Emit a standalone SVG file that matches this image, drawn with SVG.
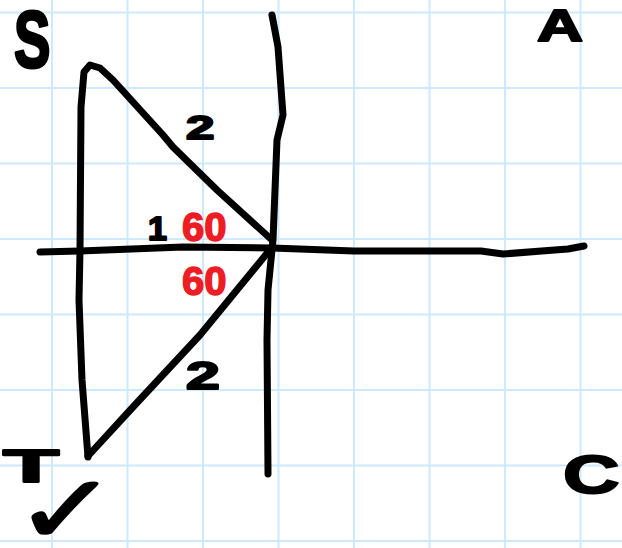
<svg xmlns="http://www.w3.org/2000/svg" width="622" height="548" viewBox="0 0 622 548">
<style>
.grid line{stroke:#cde9fb;stroke-width:2}
.ink{fill:none;stroke:#000;stroke-width:7;stroke-linecap:round;stroke-linejoin:round}
.lbl{font-family:"Liberation Sans",Arial,sans-serif;font-weight:bold;fill:#000;stroke:#000;stroke-width:2;stroke-linejoin:round}
.ang{font-family:"Liberation Sans",Arial,sans-serif;font-weight:bold;fill:#ee1c24;font-size:40px;stroke:#ee1c24;stroke-width:1.5}
</style>
<rect width="622" height="548" fill="#fff"/>
<g class="grid">
<line x1="52" y1="0" x2="52" y2="548"/>
<line x1="127.5" y1="0" x2="127.5" y2="548"/>
<line x1="203" y1="0" x2="203" y2="548"/>
<line x1="278.5" y1="0" x2="278.5" y2="548"/>
<line x1="354" y1="0" x2="354" y2="548"/>
<line x1="429.5" y1="0" x2="429.5" y2="548"/>
<line x1="505" y1="0" x2="505" y2="548"/>
<line x1="580.5" y1="0" x2="580.5" y2="548"/>
<line x1="0" y1="12.5" x2="622" y2="12.5"/>
<line x1="0" y1="88" x2="622" y2="88"/>
<line x1="0" y1="163.5" x2="622" y2="163.5"/>
<line x1="0" y1="239" x2="622" y2="239"/>
<line x1="0" y1="314.5" x2="622" y2="314.5"/>
<line x1="0" y1="390" x2="622" y2="390"/>
<line x1="0" y1="465.5" x2="622" y2="465.5"/>
<line x1="0" y1="541" x2="622" y2="541"/>
</g>
<g id="axes" class="ink">
<path d="M272,15 L278,47 L283,115 L277,140 L273,240 L268,290 L267,340 L268,474"/>
<path d="M40,252 L80,251 L183,247 L272,248 L354,251 L481,251 L503,254 L568,249 L584,246"/>
</g>
<g id="triangles" class="ink">
<path d="M88,457 L82,380 L79,300 L80,250 L81,107 L84,72 L90,65 L100,68 L113,80 L163,135 L173,147 L217,190 L272,240"/>
<path d="M273,246 L223,307 L200,335 L133,407 L88,456"/>
</g>
<g id="labels">
<text class="lbl" x="14" y="67" font-size="52" transform="translate(14,67) scale(1.05,1.55) translate(-14,-67)">S</text>
<text class="lbl" x="537" y="41" font-size="44" transform="translate(537,41) scale(1.45,1) translate(-537,-41)">A</text>
<text class="lbl" x="3" y="482" font-size="46" transform="translate(3,482) scale(2,1) translate(-3,-482)">T</text>
<text class="lbl" x="563" y="493" font-size="54" transform="translate(563,493) scale(1.45,1) translate(-563,-493)">C</text>
<text class="lbl" x="14" y="543" font-size="96" style="font-family:'DejaVu Sans',sans-serif" transform="translate(14,543) scale(1.3,1) translate(-14,-543)">✓</text>
<text class="lbl" x="186" y="139" font-size="34" transform="translate(186,139) scale(1.5,1) translate(-186,-139)">2</text>
<text class="lbl" x="186" y="389" font-size="38" transform="translate(186,389) scale(1.6,1) translate(-186,-389)">2</text>
<text class="lbl" x="148" y="240" font-size="34">1</text>
<text class="ang" x="182" y="241">60</text>
<text class="ang" x="182" y="295">60</text>
</g>
</svg>
